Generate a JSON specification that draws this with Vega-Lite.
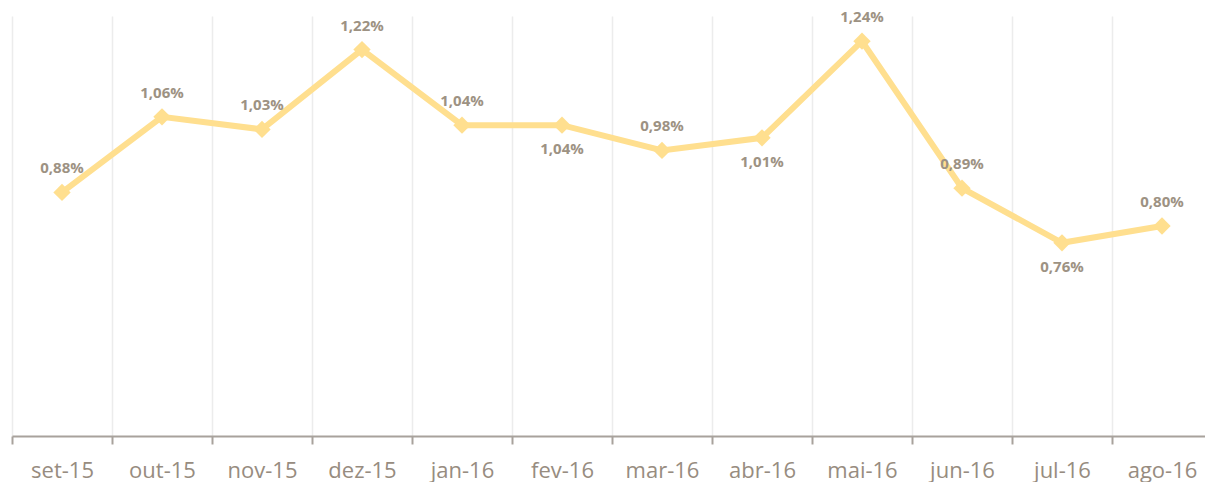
{
  "$schema": "https://vega.github.io/schema/vega-lite/v6.json",
  "width": 1193,
  "height": 420,
  "autosize": {"type": "none"},
  "padding": {"left": 12, "top": 16, "right": 0, "bottom": 46},
  "background": "white",
  "config": {"view": {"stroke": null}, "font": "Open Sans"},
  "data": {"values": [
    {"mes": "set-15", "taxa": 0.88},
    {"mes": "out-15", "taxa": 1.06},
    {"mes": "nov-15", "taxa": 1.03},
    {"mes": "dez-15", "taxa": 1.22},
    {"mes": "jan-16", "taxa": 1.04},
    {"mes": "fev-16", "taxa": 1.04},
    {"mes": "mar-16", "taxa": 0.98},
    {"mes": "abr-16", "taxa": 1.01},
    {"mes": "mai-16", "taxa": 1.24},
    {"mes": "jun-16", "taxa": 0.89},
    {"mes": "jul-16", "taxa": 0.76},
    {"mes": "ago-16", "taxa": 0.80}
  ]},
  "transform": [{"calculate": "replace(format(datum.taxa, '.2f'), '.', ',') + '%'", "as": "rotulo"}],
  "encoding": {
    "x": {
      "field": "mes", "type": "ordinal", "sort": null,
      "scale": {"range": [0, 1200], "paddingInner": 0, "paddingOuter": 0},
      "axis": {
        "title": null, "labelAngle": 0, "labelFontSize": 22, "labelColor": "#978c80",
        "labelPadding": 16, "labelFont": "Open Sans",
        "domainColor": "#a8a29c", "domainWidth": 2,
        "tickColor": "#a8a29c", "tickWidth": 2, "tickSize": 8, "tickBand": "extent",
        "grid": true, "gridColor": "#ececec", "gridWidth": 1.5
      }
    },
    "y": {
      "field": "taxa", "type": "quantitative",
      "scale": {"domain": [0.3, 1.3], "nice": false, "zero": false},
      "axis": null
    }
  },
  "layer": [
    {"mark": {"type": "line", "color": "#ffdf8f", "strokeWidth": 6, "strokeJoin": "miter"}},
    {"mark": {"type": "point", "shape": "diamond", "filled": true, "color": "#ffdf8f", "size": 300, "opacity": 1}},
    {
      "transform": [{"filter": {"not": {"field": "mes", "oneOf": ["fev-16", "abr-16", "jul-16"]}}}],
      "mark": {"type": "text", "dy": -24, "fontSize": 15, "fontWeight": "bold", "color": "#9d9283", "font": "Open Sans"},
      "encoding": {"text": {"field": "rotulo"}}
    },
    {
      "transform": [{"filter": {"field": "mes", "oneOf": ["fev-16", "abr-16", "jul-16"]}}],
      "mark": {"type": "text", "dy": 24, "fontSize": 15, "fontWeight": "bold", "color": "#9d9283", "font": "Open Sans"},
      "encoding": {"text": {"field": "rotulo"}}
    }
  ]
}
